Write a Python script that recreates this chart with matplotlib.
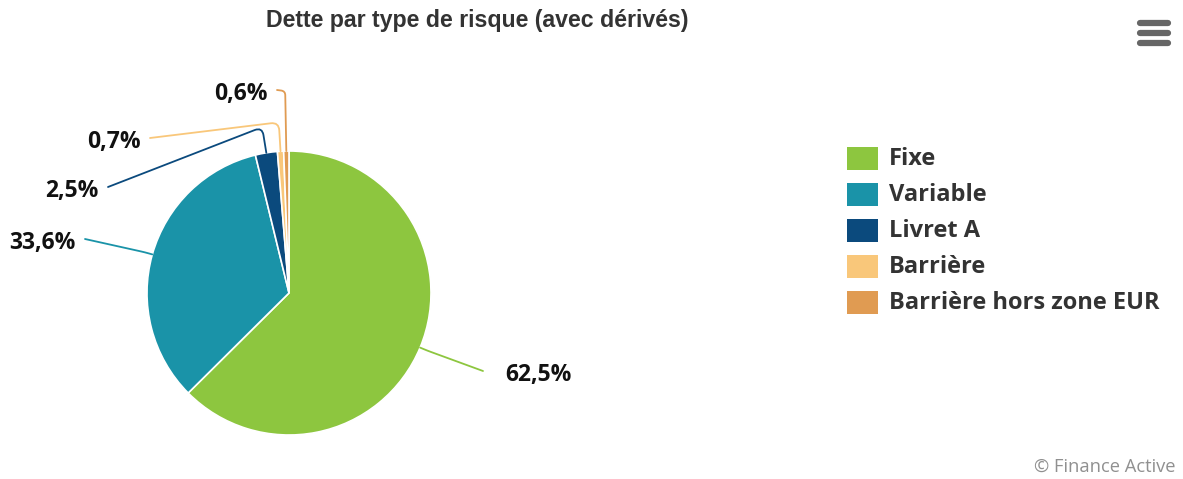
import matplotlib
matplotlib.use("Agg")
import matplotlib.pyplot as plt
import numpy as np
from matplotlib.path import Path
from matplotlib.patches import PathPatch, Rectangle

# ---- data ----
categories = ["Fixe", "Variable", "Livret A", "Barrière", "Barrière hors zone EUR"]
shares = [62.5, 33.6, 2.5, 0.7, 0.6]
labels = ["62,5%", "33,6%", "2,5%", "0,7%", "0,6%"]
colors = ["#8dc63f", "#1a93a8", "#0b4a7d", "#f9c77a", "#e09b52"]
title = "Dette par type de risque (avec dérivés)"
credit = "© Finance Active"

# ---- layout (pixels, y measured from top) ----
W, H = 1183, 479
cx, cy_top, R = 289, 293, 142
cy = H - cy_top
# connector end points and elbow radial offsets for labels
label_ends = [(483, 371), (85, 239), (108, 187), (150, 138), (277, 90)]
elbow_off = [8, 8, 26, 29, 60]
label_font = "Open Sans"

fig = plt.figure(figsize=(W / 100, H / 100), dpi=100)
ax = fig.add_axes([0, 0, 1, 1])
wedges, _ = ax.pie(shares, colors=colors, startangle=90, counterclock=False,
                   center=(cx, cy), radius=R,
                   wedgeprops=dict(edgecolor="white", linewidth=1.2))
ax.set_xlim(0, W)
ax.set_ylim(0, H)
ax.set_aspect("equal")
ax.axis("off")

for w, lab, col, end, off in zip(wedges, labels, colors, label_ends, elbow_off):
    mid = np.deg2rad((w.theta1 + w.theta2) / 2)
    d = np.array([np.cos(mid), np.sin(mid)])
    c = np.array([cx, cy])
    p0 = c + R * d
    p1 = c + (R + off) * d
    p2 = np.array([end[0], H - end[1]])
    v1 = p1 - p0
    v2 = p2 - p1
    r = min(8, np.linalg.norm(v1) * 0.5, np.linalg.norm(v2) * 0.5)
    a = p1 - v1 / np.linalg.norm(v1) * r
    b = p1 + v2 / np.linalg.norm(v2) * r
    path = Path([p0, a, p1, b, p2],
                [Path.MOVETO, Path.LINETO, Path.CURVE3, Path.CURVE3, Path.LINETO])
    ax.add_patch(PathPatch(path, fill=False, edgecolor=col, linewidth=1.3,
                           capstyle="round"))
    right = p2[0] > cx
    ax.text(p2[0] + (22 if right else -9), p2[1] - 4, lab,
            ha="left" if right else "right", va="center",
            fontsize=16.5, fontweight="bold", family=label_font, color="#111111")

# legend
for i, (cat, col) in enumerate(zip(categories, colors)):
    yc = H - (158 + i * 36)
    ax.add_patch(Rectangle((847, yc - 11.5), 31, 23, facecolor=col, edgecolor="none"))
    ax.text(889, yc - 1, cat, ha="left", va="center", fontsize=17,
            fontweight="bold", family=label_font, color="#333333")

# title
fig.text(477 / W, 1 - 21 / H, title, ha="center", va="center",
         fontsize=16.7, fontweight="bold", family="Liberation Sans", color="#333333")

# menu icon
for yy in (23, 33, 43):
    ax.plot([1140, 1168], [H - yy, H - yy], color="#666666", linewidth=4.5,
            solid_capstyle="round")

# credits
fig.text(1175 / W, 1 - 467 / H, credit, ha="right", va="center",
         fontsize=13.2, family="Open Sans", color="#909090")

fig.savefig("out.png", dpi=100)
